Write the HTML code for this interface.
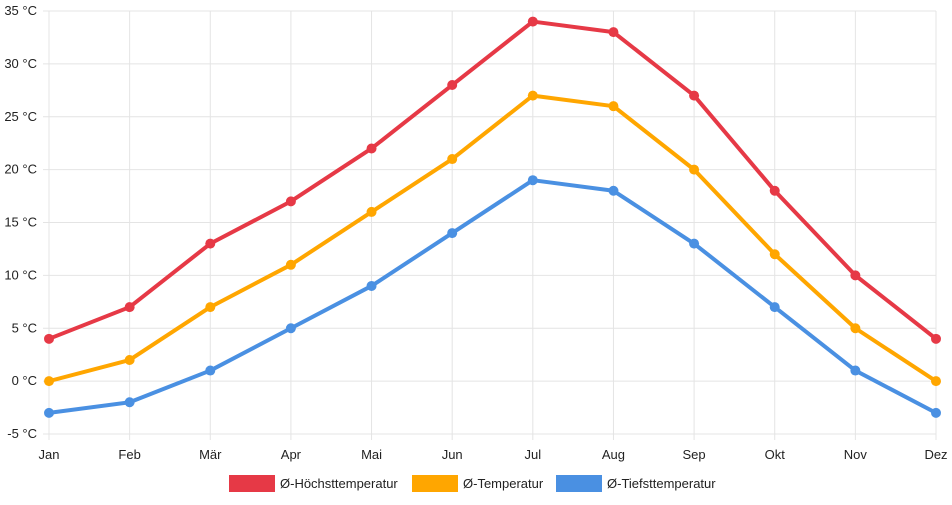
<!DOCTYPE html>
<html><head><meta charset="utf-8"><style>
body{margin:0;background:#fff;font-family:"Liberation Sans",sans-serif;}
svg text{font-family:"Liberation Sans",sans-serif;font-size:13px;fill:#222;}
</style></head><body>
<svg id="chart" width="952" height="500" xmlns="http://www.w3.org/2000/svg"></svg>
<script>
const months=["Jan","Feb","Mär","Apr","Mai","Jun","Jul","Aug","Sep","Okt","Nov","Dez"];
const highTemps=[4,7,13,17,22,28,34,33,27,18,10,4];
const meanTemps=[0,2,7,11,16,21,27,26,20,12,5,0];
const lowTemps=[-3,-2,1,5,9,14,19,18,13,7,1,-3];
const yTicks=[-5,0,5,10,15,20,25,30,35];
const seriesNames=["Ø-Höchsttemperatur","Ø-Temperatur","Ø-Tiefsttemperatur"];
const seriesColors=["#e63946","#ffa600","#4a90e2"];

const svg=document.getElementById('chart');
const NS="http://www.w3.org/2000/svg";
const x0=49,x1=936,yTop=11,yBot=434,vMin=-5,vMax=35;
function xs(i){return x0+(x1-x0)*i/(months.length-1);}
function ys(v){return yBot-(v-vMin)/(vMax-vMin)*(yBot-yTop);}
function mk(t,a,p){const e=document.createElementNS(NS,t);for(const k in a)e.setAttribute(k,a[k]);(p||svg).appendChild(e);return e;}

const grid=mk('g',{});


yTicks.forEach(v=>{
  const y=ys(v);
  mk('line',{x1:x0-6,x2:x1,y1:y,y2:y,stroke:'#e4e4e4','stroke-width':1},grid);
  const t=mk('text',{x:37,y:y+4,'text-anchor':'end'});
  t.textContent=v+" °C";
  
  
});
months.forEach((m,i)=>{
  const x=xs(i);
  mk('line',{x1:x,x2:x,y1:yTop,y2:yBot+6,stroke:'#e4e4e4','stroke-width':1},grid);
  const t=mk('text',{x:x,y:459,'text-anchor':'middle'});
  t.textContent=m;
  
  
});

[highTemps,meanTemps,lowTemps].forEach((data,s)=>{
  const g=mk('g',{});
  
  
  const pts=data.map((v,i)=>xs(i)+","+ys(v)).join(" ");
  const pl=mk('polyline',{points:pts,fill:'none',stroke:seriesColors[s],'stroke-width':4,'stroke-linejoin':'round'},g);
  
  
  data.forEach((v,i)=>{
    const c=mk('circle',{cx:xs(i),cy:ys(v),r:5,fill:seriesColors[s]},g);
    
    
  });
});

const legendX=[229,412,556];
seriesNames.forEach((n,s)=>{
  const g=mk('g',{});
  
  
  mk('rect',{x:legendX[s],y:475,width:46,height:17,fill:seriesColors[s]},g);
  const t=mk('text',{x:legendX[s]+51,y:488},g);
  t.textContent=n;
});
</script>
</body></html>
